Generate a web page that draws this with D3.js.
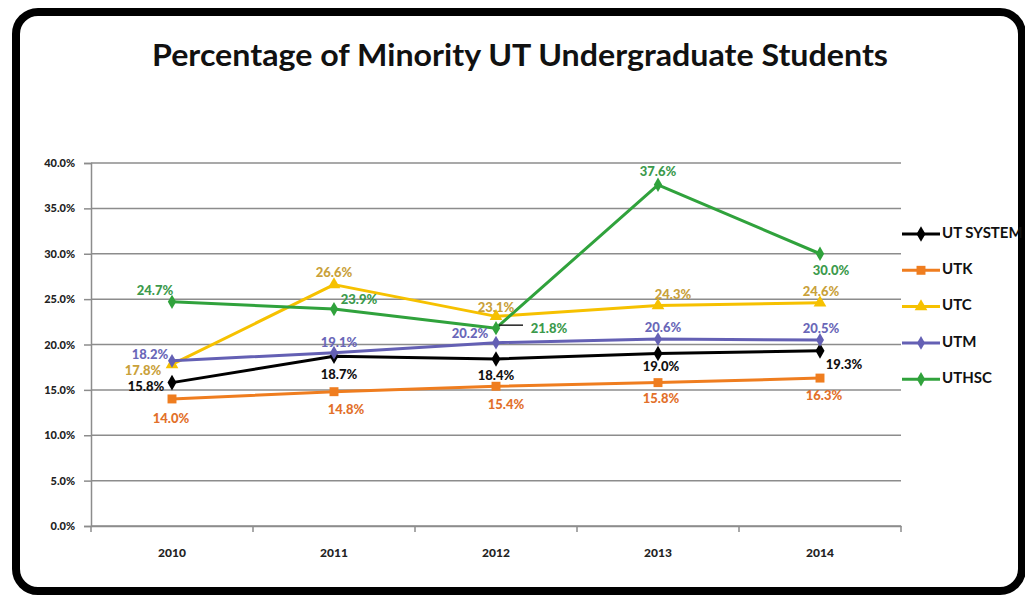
<!DOCTYPE html>
<html>
<head>
<meta charset="utf-8">
<script src="https://cdn.jsdelivr.net/npm/d3@7"></script>
<style>
  html, body { margin: 0; padding: 0; background: #fff; }
  svg { display: block; }
</style>
</head>
<body>
<div id="chart"></div>
<script>
// data
const years = ["2010", "2011", "2012", "2013", "2014"]
const seriesNames = ["UT SYSTEM", "UTK", "UTC", "UTM", "UTHSC"]
const utSystem = [15.8, 18.7, 18.4, 19.0, 19.3]
const utk = [14.0, 14.8, 15.4, 15.8, 16.3]
const utc = [17.8, 26.6, 23.1, 24.3, 24.6]
const utm = [18.2, 19.1, 20.2, 20.6, 20.5]
const uthsc = [24.7, 23.9, 21.8, 37.6, 30.0]
const yTicks = [0, 5, 10, 15, 20, 25, 30, 35, 40]

const W = 1025, H = 596
const margin = { top: 163, right: 124, bottom: 70, left: 91 }
const innerW = 901 - margin.left
const innerH = 526 - margin.top

const styles = {
  "UT SYSTEM": { line: "#000000", text: "#111111", symbol: d3.symbolDiamond, size: 70 },
  "UTK": { line: "#ef7d1f", text: "#e2702a", symbol: d3.symbolSquare, size: 80 },
  "UTC": { line: "#f6c100", text: "#c9a13a", symbol: d3.symbolTriangle, size: 70 },
  "UTM": { line: "#6460b4", text: "#6a67b8", symbol: d3.symbolDiamond, size: 55 },
  "UTHSC": { line: "#30a23c", text: "#3c9a4c", symbol: d3.symbolDiamond, size: 60 }
}

// where each value label sits relative to its point: [dx, dy] per year
const labelOffsets = {
  "UT SYSTEM": [[-26, 5], [5, 19], [0, 18], [3, 14], [24, 15]],
  "UTK": [[-1, 21], [12, 19], [10, 19], [3, 17], [4, 19]],
  "UTC": [[-29, 7], [0, -11], [0, -8], [15, -10], [1, -10]],
  "UTM": [[-22, -5], [5, -9], [-26, -8], [5, -10], [1, -10]],
  "UTHSC": [[-17, -10], [25, -8], [53, 1], [0, -12], [11, 18]]
}

const values = [utSystem, utk, utc, utm, uthsc]
const series = seriesNames.map((name, i) => ({
  name,
  points: years.map((y, j) => ({ year: y, value: values[i][j], idx: j }))
}))

const svg = d3.select("#chart").append("svg")
  .attr("width", W).attr("height", H)
  .attr("viewBox", [0, 0, W, H])

// frame
svg.append("rect")
  .attr("x", 16).attr("y", 12)
  .attr("width", 1006).attr("height", 579)
  .attr("rx", 22).attr("ry", 22)
  .attr("fill", "#fff")
  .attr("stroke", "#000")
  .attr("stroke-width", 8)

svg.append("text")
  .attr("x", 520).attr("y", 66)
  .attr("text-anchor", "middle")
  .attr("textLength", 736)
  .attr("lengthAdjust", "spacingAndGlyphs")
  .style("font", "700 30px Lato, sans-serif")
  .style("fill", "#111")
  .text("Percentage of Minority UT Undergraduate Students")

const g = svg.append("g")
  .attr("transform", `translate(${margin.left},${margin.top})`)

const x = d3.scaleBand().domain(years).range([0, innerW])
const y = d3.scaleLinear().domain([0, 40]).range([innerH, 0])
const cx = d => x(d.year) + x.bandwidth() / 2

// gridlines
g.append("g")
  .selectAll("line")
  .data(yTicks)
  .join("line")
  .attr("x1", 0).attr("x2", innerW)
  .attr("y1", d => y(d)).attr("y2", d => y(d))
  .attr("stroke", "#8c8c8c")
  .attr("stroke-width", 1.5)

// y axis
const yAxis = g.append("g")
  .call(d3.axisLeft(y).tickValues(yTicks).tickSize(7).tickPadding(9)
    .tickFormat(d => d3.format(".1f")(d) + "%"))
yAxis.select(".domain").attr("stroke", "#8c8c8c").attr("stroke-width", 1.5)
yAxis.selectAll(".tick line").attr("stroke", "#8c8c8c").attr("stroke-width", 1.5)
yAxis.selectAll(".tick text")
  .style("font", "900 11px Lato, sans-serif")
  .style("fill", "#222")

// x axis
const xAxis = g.append("g")
  .attr("transform", `translate(0,${innerH})`)
  .call(d3.axisBottom(x).tickSize(0).tickPadding(22))
xAxis.select(".domain").attr("stroke", "#8c8c8c").attr("stroke-width", 1.5)
xAxis.selectAll(".tick text")
  .style("font", "900 12px Lato, sans-serif")
  .style("fill", "#222")

// category boundary ticks
xAxis.append("g")
  .selectAll("line")
  .data(d3.range(years.length + 1))
  .join("line")
  .attr("x1", i => i * x.bandwidth()).attr("x2", i => i * x.bandwidth())
  .attr("y1", 0).attr("y2", 6)
  .attr("stroke", "#8c8c8c")
  .attr("stroke-width", 1.5)

const line = d3.line().x(cx).y(d => y(d.value))

series.forEach(s => {
  const st = styles[s.name]
  const sg = g.append("g")

  sg.append("path")
    .datum(s.points)
    .attr("fill", "none")
    .attr("stroke", st.line)
    .attr("stroke-width", 3)
    .attr("stroke-linejoin", "round")
    .attr("d", line)

  sg.selectAll("path.marker")
    .data(s.points)
    .join("path")
    .attr("class", "marker")
    .attr("transform", d => `translate(${cx(d)},${y(d.value)})`)
    .attr("d", d3.symbol().type(st.symbol).size(st.size))
    .attr("fill", st.line)
})

// leader line for the UTHSC 2012 label
const leadPt = series[4].points[2]
g.append("line")
  .attr("x1", cx(leadPt) + 3).attr("x2", cx(leadPt) + 27)
  .attr("y1", y(leadPt.value) - 3).attr("y2", y(leadPt.value) - 3)
  .attr("stroke", "#222")
  .attr("stroke-width", 1.5)

// value labels
series.forEach(s => {
  const st = styles[s.name]
  g.append("g")
    .selectAll("text")
    .data(s.points)
    .join("text")
    .attr("x", d => cx(d) + labelOffsets[s.name][d.idx][0])
    .attr("y", d => y(d.value) + labelOffsets[s.name][d.idx][1])
    .attr("text-anchor", "middle")
    .attr("dominant-baseline", "middle")
    .style("font", "900 13px Lato, sans-serif")
    .style("fill", st.text)
    .text(d => d3.format(".1f")(d.value) + "%")
})

// legend
const legend = svg.append("g")
  .attr("transform", "translate(902,234)")

seriesNames.forEach((name, i) => {
  const st = styles[name]
  const row = legend.append("g").attr("transform", `translate(0,${i * 36.3})`)
  row.append("line")
    .attr("x1", 0).attr("x2", 38)
    .attr("stroke", st.line)
    .attr("stroke-width", 3)
  row.append("path")
    .attr("transform", "translate(19,0)")
    .attr("d", d3.symbol().type(st.symbol).size(st.size))
    .attr("fill", st.line)
  row.append("text")
    .attr("x", 40).attr("y", 0)
    .attr("dominant-baseline", "middle")
    .style("font", "700 15px Lato, sans-serif")
    .style("fill", "#111")
    .text(name)
})
</script>
</body>
</html>
